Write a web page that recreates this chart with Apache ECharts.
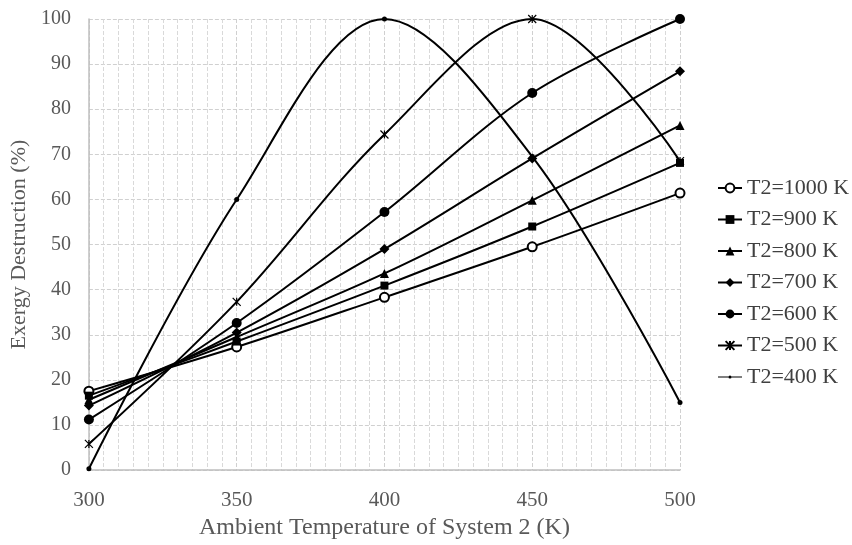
<!DOCTYPE html>
<html>
<head>
<meta charset="utf-8">
<script src="https://cdn.jsdelivr.net/npm/echarts@6/dist/echarts.min.js"></script>
<style>
  html, body { margin: 0; padding: 0; background: #fff; }
  #chart { width: 852px; height: 545px; }
</style>
</head>
<body>
<div id="chart"></div>
<script>
// ambient temperature of system 2 (K)
var temps = [300, 350, 400, 450, 500];
var seriesNames = ['T2=1000 K', 'T2=900 K', 'T2=800 K', 'T2=700 K', 'T2=600 K', 'T2=500 K', 'T2=400 K'];
// exergy destruction (%)
var t1000 = [17.5, 27.3, 38.3, 49.5, 61.4];
var t900 = [16.5, 28.5, 40.9, 54.0, 68.1];
var t800 = [15.6, 29.5, 43.6, 59.8, 76.4];
var t700 = [14.3, 30.5, 49.0, 69.1, 88.4];
var t600 = [11.2, 32.6, 57.2, 83.6, 100];
var t500 = [5.8, 37.3, 74.4, 100, 68.5];
var t400 = [0.3, 60, 100, 69.5, 15];

(function(){
    var myChart = echarts.init(document.getElementById('chart'));
    var font = '"Liberation Serif", "Times New Roman", serif';
    var starPath = 'path://M0,0L10,10M10,0L0,10M5,0L5,10';
    // legend icon for the small dot curve: line + tiny dot
    var dotIcon = 'path://M0,5.4L13,5.4L13,6.6L0,6.6Z M17,5.4L30,5.4L30,6.6L17,6.6Z M17,6A2,2 0 1,1 13,6A2,2 0 1,1 17,6Z';
    // marker per curve
    var marks = [
        { symbol: 'emptyCircle', size: 9 },
        { symbol: 'rect', size: 8 },
        { symbol: 'triangle', size: 9 },
        { symbol: 'diamond', size: 10 },
        { symbol: 'circle', size: 10 },
        { symbol: starPath, size: 8 },
        { symbol: 'circle', size: 5 }
    ];
    var values = [t1000, t900, t800, t700, t600, t500, t400];
    var series = values.map(function (vals, i) {
        var isStar = marks[i].symbol === starPath;
        return {
            name: seriesNames[i],
            type: 'line',
            smooth: 0.34,
            symbol: marks[i].symbol,
            symbolSize: marks[i].size,
            showAllSymbol: true,
            lineStyle: { color: '#000', width: 2 },
            itemStyle: isStar
                ? { color: 'none', borderColor: '#000', borderWidth: 1.2 }
                : { color: '#000' },
            emphasis: { disabled: true },
            data: temps.map(function (t, j) { return [t, vals[j]]; })
        };
    });
    var legendData = seriesNames.map(function (n, i) {
        return i === 6 ? { name: n, icon: dotIcon } : { name: n };
    });
    var option = {
        animation: false,
        grid: { left: 87, right: 172, top: 19, bottom: 72 },
        legend: {
            orient: 'vertical',
            left: 712,
            top: 172,
            itemWidth: 24,
            itemHeight: 11,
            itemGap: 9.5,
            textStyle: { fontFamily: font, fontSize: 22, color: '#404040' },
            data: legendData
        },
        xAxis: {
            type: 'value',
            min: 300,
            max: 500,
            interval: 50,
            name: 'Ambient Temperature of System 2 (K)',
            nameLocation: 'middle',
            nameGap: 44,
            nameTextStyle: { fontFamily: font, fontSize: 24, color: '#595959' },
            axisLine: { lineStyle: { color: '#bfbfbf', width: 1.5 } },
            axisTick: { show: false },
            axisLabel: { fontFamily: font, fontSize: 21, color: '#595959', margin: 20 },
            splitLine: { show: true, lineStyle: { color: '#d0d0d0', type: 'dashed' } },
            minorTick: { show: false, splitNumber: 10 },
            minorSplitLine: { show: true, lineStyle: { color: '#d9d9d9', type: 'dashed' } }
        },
        yAxis: {
            type: 'value',
            min: 0,
            max: 100,
            interval: 10,
            name: 'Exergy Destruction (%)',
            nameLocation: 'middle',
            nameGap: 49,
            nameTextStyle: { fontFamily: font, fontSize: 22, color: '#595959' },
            axisLine: { show: true, lineStyle: { color: '#bfbfbf', width: 1.5 } },
            axisTick: { show: false },
            axisLabel: { fontFamily: font, fontSize: 20, color: '#595959', margin: 18 },
            splitLine: { show: true, lineStyle: { color: '#d0d0d0', type: 'dashed' } }
        },
        series: series
    };
    myChart.setOption(option);
})();
</script>
</body>
</html>
